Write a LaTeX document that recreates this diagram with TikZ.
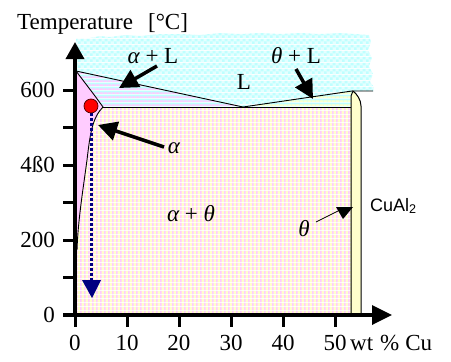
\documentclass[tikz,border=0pt]{standalone}
\usepackage{fontspec}
\setmainfont{Liberation Serif}
\newfontfamily\sansf{Liberation Sans}
\usetikzlibrary{arrows.meta,patterns}
\definecolor{ppink}{HTML}{FFCCFF}
\definecolor{pyellow}{HTML}{FFFFCC}
\definecolor{pcyan}{HTML}{BFFFFF}
\definecolor{pcyanl}{HTML}{E4FFFF}
\definecolor{pnavy}{HTML}{000080}
\pgfdeclarepatterninherentlycolored{vstripes}{\pgfpointorigin}{\pgfpoint{4pt}{4pt}}{\pgfpoint{4pt}{4pt}}{%
 \pgfsetfillcolor{pyellow}\pgfpathrectangle{\pgfpointorigin}{\pgfpoint{4pt}{4pt}}\pgfusepath{fill}%
 \pgfsetfillcolor{ppink}\pgfpathrectangle{\pgfpointorigin}{\pgfpoint{2pt}{4pt}}\pgfusepath{fill}}
\pgfdeclarepatterninherentlycolored{hstripespc}{\pgfpointorigin}{\pgfpoint{4pt}{4pt}}{\pgfpoint{4pt}{4pt}}{%
 \pgfsetfillcolor{pcyan}\pgfpathrectangle{\pgfpointorigin}{\pgfpoint{4pt}{4pt}}\pgfusepath{fill}%
 \pgfsetfillcolor{ppink}\pgfpathrectangle{\pgfpointorigin}{\pgfpoint{4pt}{2pt}}\pgfusepath{fill}}
\pgfdeclarepatterninherentlycolored{hstripesyc}{\pgfpointorigin}{\pgfpoint{4pt}{4pt}}{\pgfpoint{4pt}{4pt}}{%
 \pgfsetfillcolor{pcyan}\pgfpathrectangle{\pgfpointorigin}{\pgfpoint{4pt}{4pt}}\pgfusepath{fill}%
 \pgfsetfillcolor{pyellow}\pgfpathrectangle{\pgfpointorigin}{\pgfpoint{4pt}{2pt}}\pgfusepath{fill}}
\pgfdeclarepatterninherentlycolored{liqcheck}{\pgfpointorigin}{\pgfpoint{6pt}{6pt}}{\pgfpoint{6pt}{6pt}}{%
 \pgfsetfillcolor{pcyanl}\pgfpathrectangle{\pgfpointorigin}{\pgfpoint{6pt}{6pt}}\pgfusepath{fill}%
 \pgfsetfillcolor{pcyan}\pgfpathrectangle{\pgfpointorigin}{\pgfpoint{3pt}{3pt}}\pgfusepath{fill}%
 \pgfpathrectangle{\pgfpoint{3pt}{3pt}}{\pgfpoint{3pt}{3pt}}\pgfusepath{fill}}
\tikzset{
  lbl/.style={font=\fontsize{23}{27}\selectfont, inner sep=0pt},
  sanslbl/.style={font=\sansf\fontsize{18}{22}\selectfont, inner sep=0pt},
  axisline/.style={line width=3.5pt, draw=black},
  tickline/.style={line width=3pt, draw=black},
  bigarrow/.style={line width=3.5pt, -{Triangle[length=19pt,width=19pt]}},
  phaseline/.style={line width=0.9pt, draw=black},
}
\begin{document}
\begin{tikzpicture}[x=1pt,y=-1pt]
\useasboundingbox (0,0) rectangle (451,362);
% liquid region
\fill[pattern=liqcheck] (76,71) -- (243,107) -- (352,91) -- (373,91) -- (374,87) -- (370,82) -- (373,74) -- (369,66) -- (372,58) -- (368,50) -- (371,42) -- (369,35)
  -- (355,34) -- (340,33) -- (320,34) -- (300,33) -- (280,34) -- (260,33) -- (240,34) -- (220,33) -- (200,35) -- (180,34) -- (160,34) -- (140,36) -- (125,35) -- (110,37) -- (100,36) -- (90,38) -- (76,38) -- cycle;
% alpha + L
\fill[pattern=hstripespc] (76,71) -- (243,107) -- (103,107) .. controls (99,101) .. (95,96) -- cycle;
% theta + L
\fill[pattern=hstripesyc] (243,107) -- (352,91) -- (352,107) -- cycle;
% alpha + theta
\fill[pattern=vstripes] (76,107) rectangle (352,315);
% alpha
\fill[ppink] (76,71) -- (95,96) .. controls (99,101) .. (103,107) .. controls (92,118) and (90,135) .. (87,160) .. controls (83,190) and (78,220) .. (77,250) -- (76,250) -- cycle;
% phase boundaries
\draw[phaseline] (76,71) -- (243,107) -- (352,91) -- (373,91);
\draw[phaseline] (103,107) -- (352,107);
\draw[phaseline] (76,71) -- (95,96) .. controls (99,101) .. (103,107) .. controls (92,118) and (90,135) .. (87,160) .. controls (83,190) and (78,220) .. (77,250);
% theta strip
\filldraw[fill=pyellow, line width=1pt] (351,315) -- (351,96) -- (353,91) .. controls (357,94) and (361,100) .. (361,106) -- (361,315);
% axes
\coordinate (yb) at (75,317);
\coordinate (yt) at (75,42);
\coordinate (xl) at (63,315);
\coordinate (xr) at (392,315);
\draw[axisline, -{Triangle[length=17pt,width=18pt]}] (yb) -- (yt);
\draw[axisline, -{Triangle[length=20pt,width=19pt]}] (xl) -- (xr);
\foreach \yy in {90,127.5,165,202.5,240,277.5} \draw[tickline] (63,\yy) -- (75,\yy);
\foreach \xx in {75,127,179,231,283,335} \draw[tickline] (\xx,315) -- (\xx,327);
% tick labels
\node[lbl, anchor=east] (y600) at (55,90) {600};
\node[lbl, anchor=east] (y400) at (55,165) {4ß0};
\node[lbl, anchor=east] (y200) at (55,240) {200};
\node[lbl, anchor=east] (y0) at (55,315) {0};
\node[lbl, anchor=base] (x0) at (75,350) {0};
\node[lbl, anchor=base] (x10) at (127,350) {10};
\node[lbl, anchor=base] (x20) at (179,350) {20};
\node[lbl, anchor=base] (x30) at (231,350) {30};
\node[lbl, anchor=base] (x40) at (283,350) {40};
\node[lbl, anchor=base] (x50) at (335,350) {50};
\node[lbl, anchor=base west] (xunit) at (350,350) {wt\hspace{7pt}\%\hspace{6pt}Cu};
\node[lbl, anchor=base west] (ytitle) at (17,29) {Temperature\hspace{15pt}[°C]};
% region labels
\node[lbl] (laL) at (153,56) {{\itshape α} + L};
\node[lbl] (ltL) at (296,56) {{\itshape θ} + L};
\node[lbl] (lL) at (244,82) {L};
\node[lbl] (la) at (174,148) {\itshape α};
\node[lbl] (lat) at (191,214) {{\itshape α} + {\itshape θ}};
\node[lbl] (lt) at (304,229) {\itshape θ};
\node[sanslbl, anchor=west] (lcu) at (370,206) {CuAl\textsubscript{2}};
% arrows
\coordinate (aLs) at (157,66);
\coordinate (aLe) at (119,88);
\coordinate (tLs) at (296,69);
\coordinate (tLe) at (313,99);
\coordinate (as) at (164,147);
\coordinate (ae) at (98,125);
\coordinate (ts) at (316,222);
\coordinate (te) at (340,210);
\draw[bigarrow] (aLs) -- (aLe);
\draw[bigarrow] (tLs) -- (tLe);
\draw[bigarrow] (as) -- (ae);
\draw[line width=0.8pt] (ts) -- (te);
\fill (336,207) -- (353,207) -- (343,219) -- cycle;
% cooling path
\coordinate (cs) at (91,113);
\coordinate (ce) at (91,281);
\draw[pnavy, line width=3pt, dash pattern=on 3pt off 2pt] (cs) -- (ce);
\fill[pnavy] (82,280) -- (101,280) -- (92,298) -- cycle;
\node[circle, fill=red, draw=black!70!red, line width=0.7pt, minimum size=14pt, inner sep=0pt] (dot) at (91,106) {};
\end{tikzpicture}
\end{document}
